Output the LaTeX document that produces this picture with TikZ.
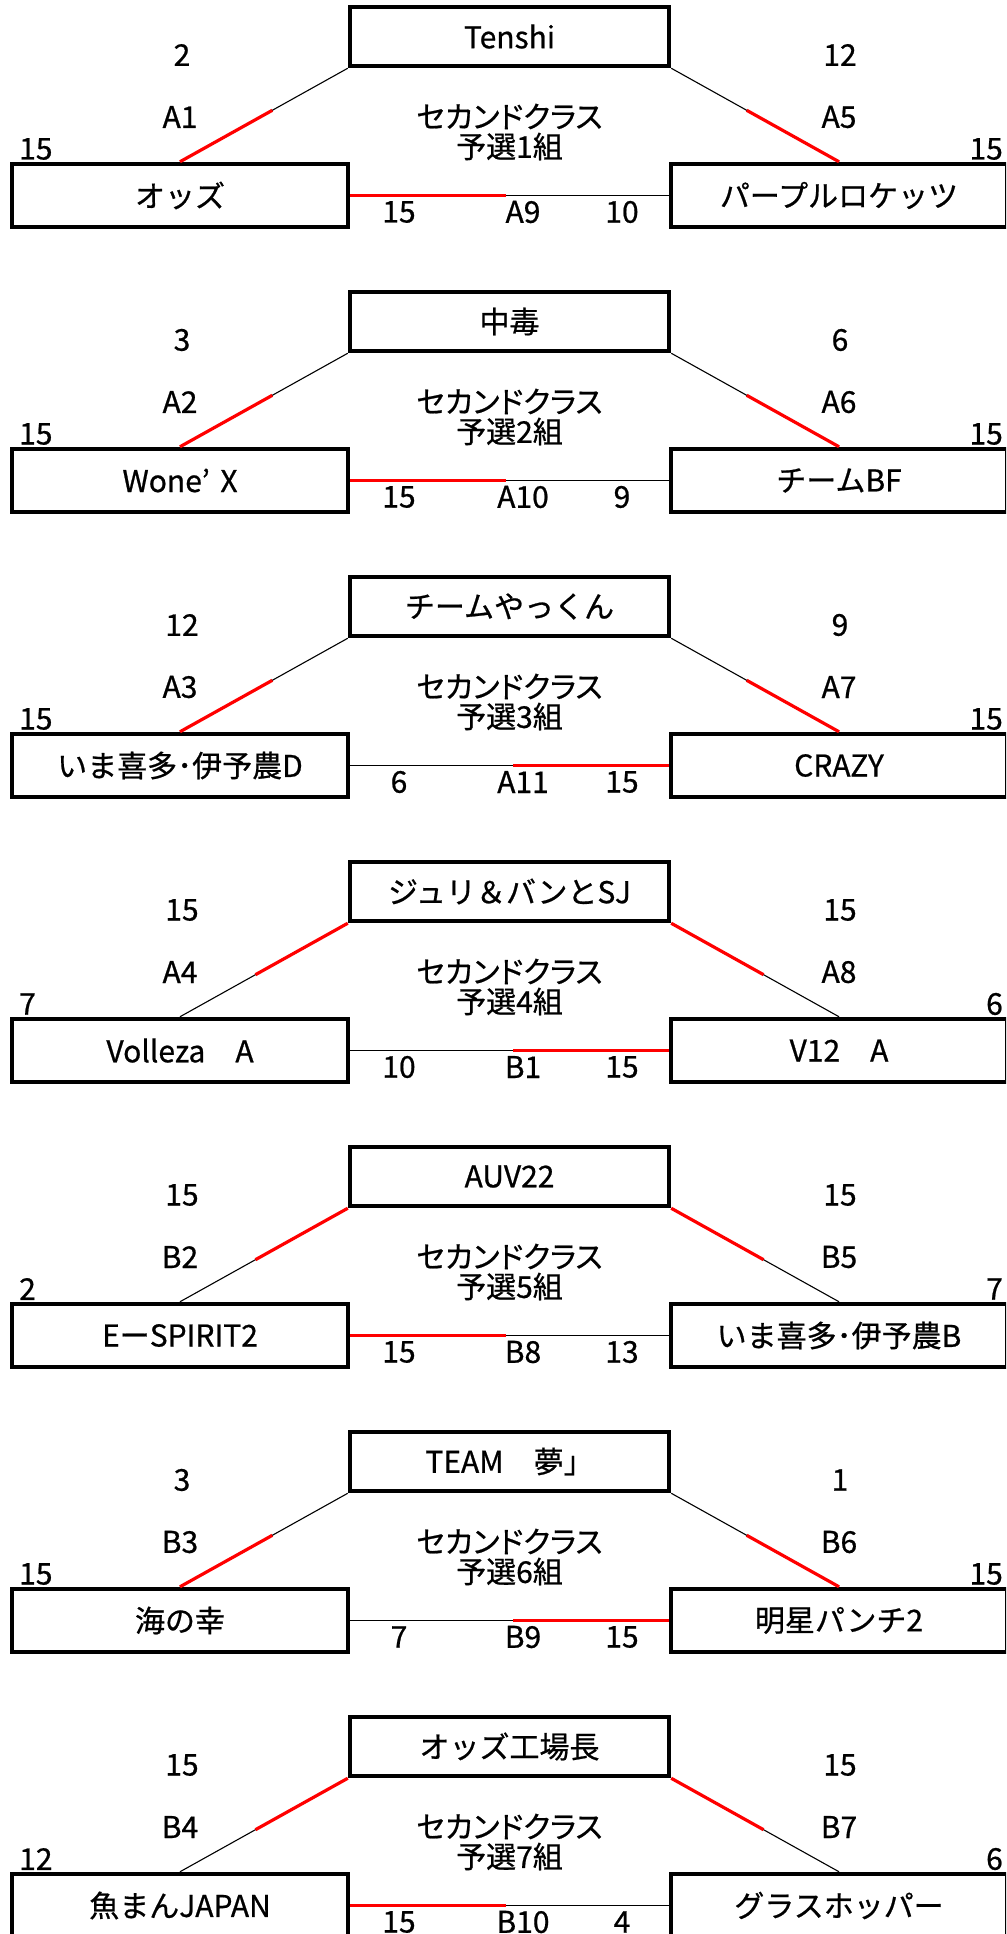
\documentclass[tikz,border=0pt]{standalone}
\usepackage{fontspec}
\setmainfont{Noto Sans CJK JP}[UprightFeatures={FakeBold=0.7}]
\newfontfamily\kana{Noto Sans CJK JP}[RawFeature=+palt, UprightFeatures={FakeBold=0.7}]

\tikzset{
  every node/.style={font=\fontsize{30}{30}\selectfont},
  team/.style={draw, line width=4.5pt, minimum width=336pt, minimum height=63pt, inner sep=0pt},
  seed/.style={team, minimum width=319pt, minimum height=59pt},
  title/.style={align=center, inner sep=0pt, font=\kana\fontsize{30}{30}\selectfont},
  pts/.style={inner sep=0pt},
  link/.style={line width=1.1pt},
  win/.style={red, line width=3.2pt},
}

% one pool: top seed, two teams, title, connectors
\newcommand\pool[5]{%
  \node[seed] (#1t) at (509.5,36.5) {#2};
  \node[team] (#1l) at (180,195.5) {#3};
  \node[team] (#1r) at (839,195.5) {#4};
  \node[title] (#1c) at (509.5,132) {セカンドクラス\\予選#5組};
  \draw[link] (#1t.south west) -- (#1l.north);
  \draw[link] (#1t.south east) -- (#1r.north);
  \draw[link] (#1l.east) -- (#1r.west);
}
% winner's part of a connector in red
\newcommand\beat[3][.55]{%
  \path (#2) -- (#3) coordinate[pos=#1] (cut);
  \draw[win] (#2) -- (cut);
}

\begin{document}
\begin{tikzpicture}[x=1pt, y=-1pt]
  \useasboundingbox (0,0) rectangle (1006,1934);
  \clip (0,0) rectangle (1006,1934);

  % pool 1
  \begin{scope}[shift={(0,0)}]
    \pool{g1}{Tenshi}{オッズ}{パープルロケッツ}{1}
    \beat{g1l.north}{g1t.south west}
    \beat{g1r.north}{g1t.south east}
    \beat[.49]{g1l.east}{g1r.west}
    \node[pts] (g1lt) at (182,55) {2};
    \node[pts] (g1lm) at (180,117) {A1};
    \node[pts, anchor=west] (g1ls) at (19,149) {15};
    \node[pts] (g1rt) at (840,55) {12};
    \node[pts] (g1rm) at (839,117) {A5};
    \node[pts, anchor=east] (g1rs) at (1003,149) {15};
    \node[pts] (g1bl) at (399,212) {15};
    \node[pts] (g1bm) at (523,212) {A9};
    \node[pts] (g1br) at (622,212) {10};
  \end{scope}

  % pool 2
  \begin{scope}[shift={(0,285)}]
    \pool{g2}{中毒}{Wone’\hspace{.35em}X}{チームBF}{2}
    \beat{g2l.north}{g2t.south west}
    \beat{g2r.north}{g2t.south east}
    \beat[.49]{g2l.east}{g2r.west}
    \node[pts] (g2lt) at (182,55) {3};
    \node[pts] (g2lm) at (180,117) {A2};
    \node[pts, anchor=west] (g2ls) at (19,149) {15};
    \node[pts] (g2rt) at (840,55) {6};
    \node[pts] (g2rm) at (839,117) {A6};
    \node[pts, anchor=east] (g2rs) at (1003,149) {15};
    \node[pts] (g2bl) at (399,212) {15};
    \node[pts] (g2bm) at (523,212) {A10};
    \node[pts] (g2br) at (622,212) {9};
  \end{scope}

  % pool 3
  \begin{scope}[shift={(0,570)}]
    \pool{g3}{チームやっくん}{いま喜多･伊予農D}{CRAZY}{3}
    \beat{g3l.north}{g3t.south west}
    \beat{g3r.north}{g3t.south east}
    \beat[.49]{g3r.west}{g3l.east}
    \node[pts] (g3lt) at (182,55) {12};
    \node[pts] (g3lm) at (180,117) {A3};
    \node[pts, anchor=west] (g3ls) at (19,149) {15};
    \node[pts] (g3rt) at (840,55) {9};
    \node[pts] (g3rm) at (839,117) {A7};
    \node[pts, anchor=east] (g3rs) at (1003,149) {15};
    \node[pts] (g3bl) at (399,212) {6};
    \node[pts] (g3bm) at (523,212) {A11};
    \node[pts] (g3br) at (622,212) {15};
  \end{scope}

  % pool 4
  \begin{scope}[shift={(0,855)}]
    \pool{g4}{ジュリ＆バンとSJ}{Volleza　A}{V12　A}{4}
    \beat{g4t.south west}{g4l.north}
    \beat{g4t.south east}{g4r.north}
    \beat[.49]{g4r.west}{g4l.east}
    \node[pts] (g4lt) at (182,55) {15};
    \node[pts] (g4lm) at (180,117) {A4};
    \node[pts, anchor=west] (g4ls) at (19,149) {7};
    \node[pts] (g4rt) at (840,55) {15};
    \node[pts] (g4rm) at (839,117) {A8};
    \node[pts, anchor=east] (g4rs) at (1003,149) {6};
    \node[pts] (g4bl) at (399,212) {10};
    \node[pts] (g4bm) at (523,212) {B1};
    \node[pts] (g4br) at (622,212) {15};
  \end{scope}

  % pool 5
  \begin{scope}[shift={(0,1140)}]
    \pool{g5}{AUV22}{EーSPIRIT2}{いま喜多･伊予農B}{5}
    \beat{g5t.south west}{g5l.north}
    \beat{g5t.south east}{g5r.north}
    \beat[.49]{g5l.east}{g5r.west}
    \node[pts] (g5lt) at (182,55) {15};
    \node[pts] (g5lm) at (180,117) {B2};
    \node[pts, anchor=west] (g5ls) at (19,149) {2};
    \node[pts] (g5rt) at (840,55) {15};
    \node[pts] (g5rm) at (839,117) {B5};
    \node[pts, anchor=east] (g5rs) at (1003,149) {7};
    \node[pts] (g5bl) at (399,212) {15};
    \node[pts] (g5bm) at (523,212) {B8};
    \node[pts] (g5br) at (622,212) {13};
  \end{scope}

  % pool 6
  \begin{scope}[shift={(0,1425)}]
    \pool{g6}{TEAM　夢」}{海の幸}{明星パンチ2}{6}
    \beat{g6l.north}{g6t.south west}
    \beat{g6r.north}{g6t.south east}
    \beat[.49]{g6r.west}{g6l.east}
    \node[pts] (g6lt) at (182,55) {3};
    \node[pts] (g6lm) at (180,117) {B3};
    \node[pts, anchor=west] (g6ls) at (19,149) {15};
    \node[pts] (g6rt) at (840,55) {1};
    \node[pts] (g6rm) at (839,117) {B6};
    \node[pts, anchor=east] (g6rs) at (1003,149) {15};
    \node[pts] (g6bl) at (399,212) {7};
    \node[pts] (g6bm) at (523,212) {B9};
    \node[pts] (g6br) at (622,212) {15};
  \end{scope}

  % pool 7
  \begin{scope}[shift={(0,1710)}]
    \pool{g7}{オッズ工場長}{魚まんJAPAN}{グラスホッパー}{7}
    \beat{g7t.south west}{g7l.north}
    \beat{g7t.south east}{g7r.north}
    \beat[.49]{g7l.east}{g7r.west}
    \node[pts] (g7lt) at (182,55) {15};
    \node[pts] (g7lm) at (180,117) {B4};
    \node[pts, anchor=west] (g7ls) at (19,149) {12};
    \node[pts] (g7rt) at (840,55) {15};
    \node[pts] (g7rm) at (839,117) {B7};
    \node[pts, anchor=east] (g7rs) at (1003,149) {6};
    \node[pts] (g7bl) at (399,212) {15};
    \node[pts] (g7bm) at (523,212) {B10};
    \node[pts] (g7br) at (622,212) {4};
  \end{scope}
\end{tikzpicture}
\end{document}
